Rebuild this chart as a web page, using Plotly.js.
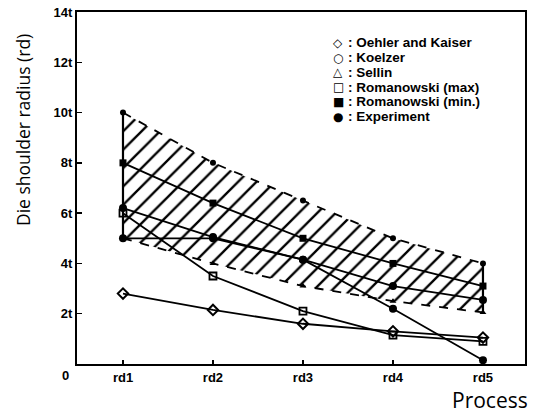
<!DOCTYPE html>
<html>
<head>
<meta charset="utf-8">
<script src="https://cdn.plot.ly/plotly-3.0.1.min.js"></script>
<style>html,body{margin:0;padding:0;background:#fff;}#chart{width:536px;height:417px;}</style>
</head>
<body>
<div id="chart"></div>
<script>
// ---- data ----
var processes = ['rd1', 'rd2', 'rd3', 'rd4', 'rd5'];
var oehlerKaiser = [2.8, 2.15, 1.6, 1.3, 1.05];
var koelzer = [6.2, 5.05, 4.15, 3.1, 2.55];
var sellinMax = [10.0, 8.0, 6.5, 5.0, 4.0];
var sellinMin = [5.0, 4.0, 3.1, 2.5, 2.05];
var romanowskiMax = [6.0, 3.5, 2.1, 1.15, 0.9];
var romanowskiMin = [8.0, 6.4, 5.0, 4.0, 3.1];
var experiment = [5.0, 5.0, 4.15, 2.2, 0.15];
var yTickVals = [0, 2, 4, 6, 8, 10, 12, 14];
var yTickText = ['', '2t', '4t', '6t', '8t', '10t', '12t', '14t'];
var legendLabels = [
  ['\u25C7', 'Oehler and Kaiser'],
  ['\u25CB', 'Koelzer'],
  ['\u25B3', 'Sellin'],
  ['\u25A1', 'Romanowski (max)'],
  ['\u25A0', 'Romanowski (min.)'],
  ['\u25CF', 'Experiment']
];

var K = 'black';
var LW = 1.8;
var first = processes[0], last = processes[processes.length - 1];

var traces = [
  // Sellin band (lower boundary)
  {x: processes, y: sellinMin, mode: 'lines+markers', type: 'scatter',
   line: {color: K, width: LW, dash: 'dash'},
   marker: {symbol: 'triangle-up', size: 6, color: K}},
  // Sellin band (upper boundary, hatched fill down to lower)
  {x: processes, y: sellinMax, mode: 'lines+markers', type: 'scatter',
   line: {color: K, width: LW, dash: 'dash'},
   marker: {symbol: 'circle', size: 6, color: K},
   fill: 'tonexty', fillcolor: 'rgba(0,0,0,0)',
   fillpattern: {shape: '/', size: 13, solidity: 0.18, fgcolor: K, bgcolor: 'rgba(0,0,0,0)'}},
  // band side edges
  {x: [first, first], y: [sellinMax[0], sellinMin[0]], mode: 'lines', type: 'scatter',
   line: {color: K, width: 2.2}},
  {x: [last, last], y: [sellinMax[4], sellinMin[4]], mode: 'lines', type: 'scatter',
   line: {color: K, width: 2.2}},
  {x: processes, y: oehlerKaiser, mode: 'lines+markers', type: 'scatter',
   line: {color: K, width: LW},
   marker: {symbol: 'diamond-open', size: 8, color: K, line: {width: 2}}},
  {x: processes, y: romanowskiMax, mode: 'lines+markers', type: 'scatter',
   line: {color: K, width: LW},
   marker: {symbol: 'square-open', size: 7, color: K, line: {width: 1.8}}},
  {x: processes, y: romanowskiMin, mode: 'lines+markers', type: 'scatter',
   line: {color: K, width: LW},
   marker: {symbol: 'square', size: 7, color: K}},
  {x: processes, y: koelzer, mode: 'lines+markers', type: 'scatter',
   line: {color: K, width: LW},
   marker: {symbol: 'circle', size: 8, color: K}},
  {x: processes, y: experiment, mode: 'lines+markers', type: 'scatter',
   line: {color: K, width: LW},
   marker: {symbol: 'circle', size: 8, color: K}}
];

var annotations = [];
var legTop = 43, legStep = 14.7;
var plotTop = 12, plotBottom = 364, plotH = plotBottom - plotTop;
function paperY(px) { return (plotBottom - px) / plotH; }
var plotLeft = 77, plotRight = 525, plotW = plotRight - plotLeft;
function paperX(px) { return (px - plotLeft) / plotW; }

legendLabels.forEach(function (item, i) {
  var yp = paperY(legTop + i * legStep);
  annotations.push({xref: 'paper', yref: 'paper', x: paperX(338), y: yp,
    xanchor: 'center', yanchor: 'middle', showarrow: false, text: item[0],
    font: {family: 'DejaVu Sans', size: 12, color: K, weight: 'bold'}});
  annotations.push({xref: 'paper', yref: 'paper', x: paperX(346), y: yp,
    xanchor: 'left', yanchor: 'middle', showarrow: false, text: ': ' + item[1],
    font: {family: 'Liberation Sans', size: 13.5, color: K, weight: 'bold'}});
});
// y-axis title
annotations.push({xref: 'paper', yref: 'paper', x: paperX(23), y: paperY(130),
  xanchor: 'center', yanchor: 'middle', showarrow: false, textangle: -90,
  text: 'Die shoulder radius (rd)', font: {family: 'Open Sans', size: 17.5, color: K}});
// x-axis title
annotations.push({xref: 'paper', yref: 'paper', x: paperX(530), y: paperY(400),
  xanchor: 'right', yanchor: 'middle', showarrow: false,
  text: 'Process', font: {family: 'Open Sans', size: 21, color: K}});
// zero label of the y axis
annotations.push({xref: 'paper', yref: 'paper', x: paperX(65), y: paperY(375),
  xanchor: 'center', yanchor: 'middle', showarrow: false,
  text: '0', font: {family: 'Liberation Sans', size: 13, color: K, weight: 'bold'}});

var layout = {
  width: 536, height: 417,
  margin: {l: plotLeft, r: 536 - plotRight, t: plotTop, b: 417 - plotBottom, pad: 0},
  paper_bgcolor: 'white', plot_bgcolor: 'white',
  showlegend: false,
  xaxis: {
    type: 'category', range: [-0.511, 4.467],
    showgrid: false, zeroline: false,
    showline: true, linecolor: K, linewidth: 2, mirror: true,
    ticks: 'inside', ticklen: 4, tickwidth: 1.5, tickcolor: K,
    tickfont: {family: 'Liberation Sans', size: 13, color: K, weight: 'bold'}
  },
  yaxis: {
    range: [0, 14], tickvals: yTickVals, ticktext: yTickText,
    showgrid: false, zeroline: false,
    showline: true, linecolor: K, linewidth: 2, mirror: true,
    ticks: 'inside', ticklen: 5, tickwidth: 1.5, tickcolor: K,
    tickfont: {family: 'Liberation Sans', size: 13, color: K, weight: 'bold'}
  },
  annotations: annotations
};

Plotly.newPlot('chart', traces, layout, {staticPlot: true, displayModeBar: false});
</script>
</body>
</html>
